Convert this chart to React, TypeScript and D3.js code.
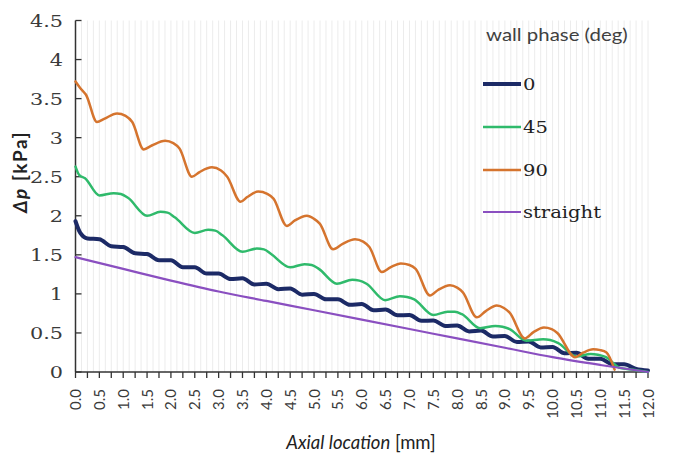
import React from 'react';
import * as d3 from 'd3';

const W = 674;
const H = 457;

// ---- data (x in mm, Δp in kPa) ----
const phase0: [number, number][] = [
  [0, 1.93], [0.1, 1.78], [0.25, 1.71], [0.5, 1.70], [0.75, 1.61], [1, 1.60], [1.25, 1.52], [1.5, 1.51],
  [1.75, 1.43], [2, 1.43], [2.25, 1.34], [2.5, 1.34], [2.75, 1.26], [3, 1.26], [3.25, 1.19], [3.5, 1.2],
  [3.75, 1.12], [4, 1.13], [4.25, 1.06], [4.5, 1.07], [4.75, 0.99], [5, 1.0], [5.25, 0.93], [5.5, 0.93],
  [5.75, 0.86], [6, 0.87], [6.25, 0.79], [6.5, 0.8], [6.75, 0.725], [7, 0.73], [7.25, 0.655], [7.5, 0.66],
  [7.75, 0.59], [8, 0.595], [8.25, 0.52], [8.5, 0.53], [8.75, 0.455], [9, 0.46], [9.25, 0.385], [9.5, 0.39],
  [9.75, 0.315], [10, 0.32], [10.25, 0.24], [10.5, 0.245], [10.75, 0.17], [11, 0.17], [11.25, 0.1],
  [11.5, 0.1], [11.75, 0.04], [12, 0.02],
];

const phase45: [number, number][] = [
  [0, 2.63], [0.08, 2.52], [0.2, 2.48], [0.5, 2.26], [0.8, 2.29], [0.95, 2.28], [1.1, 2.23], [1.5, 2.0],
  [1.78, 2.05], [1.93, 2.04], [2.08, 1.98], [2.5, 1.78], [2.78, 1.82], [2.93, 1.81], [3.08, 1.75],
  [3.5, 1.54], [3.8, 1.58], [3.95, 1.57], [4.1, 1.51], [4.5, 1.34], [4.8, 1.38], [4.95, 1.37], [5.1, 1.32],
  [5.48, 1.13], [5.8, 1.18], [5.95, 1.17], [6.1, 1.13], [6.49, 0.92], [6.8, 0.97], [6.95, 0.96],
  [7.1, 0.93], [7.5, 0.73], [7.8, 0.77], [7.95, 0.77], [8.1, 0.74], [8.48, 0.56], [8.8, 0.59],
  [8.95, 0.58], [9.1, 0.55], [9.45, 0.4], [9.8, 0.42], [9.95, 0.41], [10.12, 0.37], [10.5, 0.2],
  [10.8, 0.23], [10.95, 0.22], [11.12, 0.19], [11.42, 0.05], [11.7, 0.03], [12, 0.0],
];

const phase90: [number, number][] = [
  [0, 3.72], [0.12, 3.62], [0.22, 3.55], [0.45, 3.2], [0.6, 3.24], [0.87, 3.31], [1.05, 3.28], [1.19, 3.2],
  [1.43, 2.85], [1.6, 2.9], [1.88, 2.96], [2.05, 2.93], [2.18, 2.86], [2.44, 2.5], [2.6, 2.56],
  [2.86, 2.62], [3.05, 2.58], [3.18, 2.5], [3.46, 2.18], [3.6, 2.24], [3.83, 2.31], [4.02, 2.28],
  [4.15, 2.22], [4.43, 1.87], [4.6, 1.94], [4.85, 2.0], [5.0, 1.96], [5.12, 1.9], [5.4, 1.57],
  [5.6, 1.64], [5.86, 1.7], [6.03, 1.67], [6.16, 1.6], [6.42, 1.28], [6.6, 1.34], [6.82, 1.39],
  [7.0, 1.37], [7.13, 1.32], [7.43, 0.98], [7.6, 1.05], [7.85, 1.11], [8.0, 1.08], [8.12, 1.02],
  [8.41, 0.7], [8.6, 0.78], [8.83, 0.85], [8.98, 0.82], [9.1, 0.76], [9.42, 0.43], [9.6, 0.51],
  [9.82, 0.57], [9.98, 0.55], [10.1, 0.5], [10.47, 0.19], [10.65, 0.25], [10.85, 0.29], [11.0, 0.28],
  [11.13, 0.25], [11.3, 0.03],
];

const straight: [number, number][] = [
  [0, 1.47], [1, 1.32], [2, 1.17], [3, 1.03], [4, 0.91], [5, 0.79], [6, 0.67], [7, 0.55], [8, 0.43],
  [9, 0.31], [10, 0.19], [11, 0.09], [12, 0.0],
];

const legendTitle = 'wall phase (deg)';
const seriesNames = ['0', '45', '90', 'straight'];
const seriesColors = ['#1c2a66', '#2fba6b', '#d5742e', '#8a4fc0'];
const seriesWidths = [4, 2.5, 2.5, 2.2];
const seriesData = [phase0, phase45, phase90, straight];

const xTickLabels = ['0.0', '0.5', '1.0', '1.5', '2.0', '2.5', '3.0', '3.5', '4.0', '4.5', '5.0', '5.5', '6.0',
  '6.5', '7.0', '7.5', '8.0', '8.5', '9.0', '9.5', '10.0', '10.5', '11.0', '11.5', '12.0'];
const yTickLabels = ['0', '0.5', '1', '1.5', '2', '2.5', '3', '3.5', '4', '4.5'];

const X0 = 75.5, X1 = 648, YT = 20.5, YB = 372;

export default function App() {
  const x = d3.scaleLinear().domain([0, 12]).range([X0, X1]);
  const y = d3.scaleLinear().domain([0, 4.5]).range([YB, YT]);
  const line = d3.line<[number, number]>()
    .x(d => x(d[0]))
    .y(d => y(d[1]))
    .curve(d3.curveMonotoneX);

  const grid = d3.range(0, 96 + 1).map(i => i * 0.125);
  const xMinor = d3.range(0, 48 + 1).map(i => i * 0.25);
  const serif = '"DejaVu Serif", serif';
  const sans = 'Lato, "Open Sans", sans-serif';

  const legendY = [84, 127, 170, 212];
  const drawOrder = [0, 1, 2, 3];

  return (
    <svg width={W} height={H} style={{ position: 'absolute', left: 0, top: 0, background: '#fff' }}>
      <rect width={W} height={H} fill="#fff" />
      {grid.map((g, i) => (
        <line key={'g' + i} x1={x(g)} x2={x(g)} y1={YT} y2={YB} stroke="#ececec" strokeWidth={1} />
      ))}
      {/* axes */}
      <line x1={X0} x2={X0} y1={YT} y2={YB} stroke="#333" strokeWidth={1.5} />
      <line x1={X0} x2={X1} y1={YB} y2={YB} stroke="#333" strokeWidth={1.5} />
      {yTickLabels.map((t, i) => (
        <line key={'yt' + i} x1={X0} x2={X0 + 6} y1={y(+t)} y2={y(+t)} stroke="#333" strokeWidth={1.3} />
      ))}
      {xMinor.map((v, i) => (
        <line key={'xt' + i} x1={x(v)} x2={x(v)} y1={YB} y2={YB + 6} stroke="#333" strokeWidth={1.3} />
      ))}
      {/* series */}
      {drawOrder.map(i => (
        <path key={'s' + i} d={line(seriesData[i]) || ''} fill="none" stroke={seriesColors[i]}
          strokeWidth={seriesWidths[i]} strokeLinejoin="round" strokeLinecap="round" />
      ))}
      {/* y tick labels */}
      {yTickLabels.map((t, i) => (
        <text key={'yl' + i} transform={`translate(63,${y(+t) + 6}) scale(1.3,1)`} textAnchor="end"
          fontFamily={serif} fontSize={16} fill="#3a3a3a">{t}</text>
      ))}
      {/* x tick labels */}
      {xTickLabels.map((t, i) => (
        <text key={'xl' + i} transform={`translate(${x(+t) + 5.5},389) rotate(-90)`} textAnchor="end"
          fontFamily={sans} fontSize={15} fill="#3a3a3a">{t}</text>
      ))}
      {/* axis titles */}
      <text x={361} y={449} textAnchor="middle" fontFamily={sans} fontSize={18.5} fill="#222">
        <tspan fontStyle="italic">Axial location</tspan> [mm]
      </text>
      <text transform="translate(27,172) rotate(-90)" textAnchor="middle" fontFamily={sans} fontSize={19}
        fontWeight="bold" letterSpacing={1.5} fill="#222">
        <tspan fontStyle="italic">Δp</tspan> [kPa]
      </text>
      {/* legend */}
      <text transform="translate(486,41) scale(1.2,1)" fontFamily={sans} fontSize={17} fill="#404040">{legendTitle}</text>
      {seriesNames.map((n, i) => (
        <g key={'lg' + i}>
          <line x1={483} x2={521} y1={legendY[i]} y2={legendY[i]} stroke={seriesColors[i]}
            strokeWidth={seriesWidths[i]} />
          <text transform={`translate(523,${legendY[i] + 6}) scale(1.15,1)`} fontFamily={serif} fontSize={17}
            fill="#222">{n}</text>
        </g>
      ))}
    </svg>
  );
}
